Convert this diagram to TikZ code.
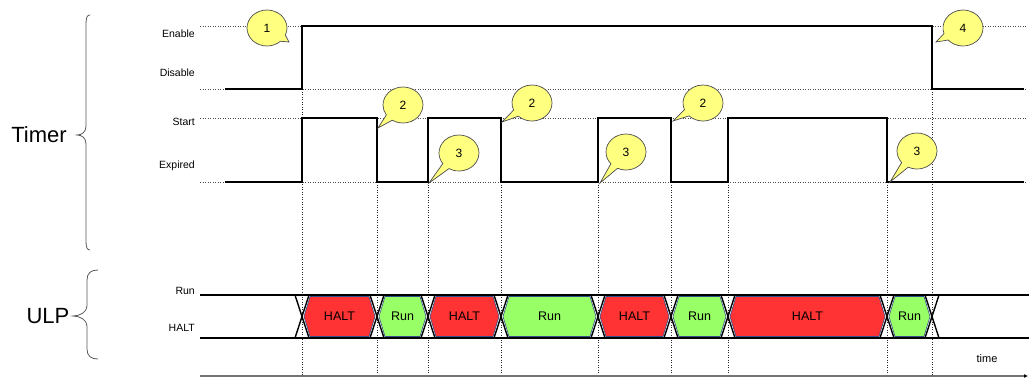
\documentclass[tikz,border=0pt]{standalone}
\usepackage{fontspec}
\setmainfont{Liberation Sans}
\usetikzlibrary{shapes.callouts,arrows.meta}
\definecolor{haltc}{RGB}{255,51,51}
\definecolor{runc}{RGB}{153,255,102}
\definecolor{balc}{RGB}{255,255,128}
\definecolor{hexedge}{RGB}{50,80,140}
\newcommand\hexa[5]{%
  \draw[#3] (#1+2,316.5) -- (#1+8,296.5) -- (#2-8,296.5) -- (#2-2,316.5) -- (#2-8,336.5) -- (#1+8,336.5) -- cycle;
  \node[hexlab] (#5) at ({(#1+#2)/2},316.5) {#4};}
\begin{document}
\begin{tikzpicture}[x=1pt,y=-1pt,
  sig/.style={line width=1.8pt, line join=miter},
  guide/.style={black!70, dash pattern=on 1pt off 1.5pt, line width=0.6pt},
  vguide/.style={black!85, dash pattern=on 1pt off 1.5pt, line width=0.6pt},
  lab/.style={font=\fontsize{10.5}{12}\selectfont, anchor=east, inner sep=0},
  bal/.style={ellipse callout, draw=black!70, fill=balc, line width=0.7pt, minimum width=40pt, minimum height=36pt, inner sep=0pt, callout pointer arc=24, font=\fontsize{12}{14}\selectfont},
  bus/.style={line width=1.6pt},
  hexhalt/.style={fill=haltc, draw=hexedge, line width=0.6pt},
  hexrun/.style={fill=runc, draw=hexedge, line width=0.6pt},
  hexlab/.style={font=\fontsize{12.5}{14}\selectfont, inner sep=0pt},
  brace/.style={draw=black!65, line width=0.8pt},
  ]
\useasboundingbox (0,0) rectangle (1029,378);
% guides
\foreach \y in {26,89,118,182} \draw[guide] (200,\y) -- (1027,\y);
\draw[vguide] (302,89) -- (302,376);
\draw[vguide] (932,89) -- (932,376);
\foreach \x in {377,428,501,598,671,728,887} \draw[vguide] (\x,182) -- (\x,376);
% signals
\draw[sig] (225,89) -- (302,89) -- (302,26) -- (932,26) -- (932,89) -- (1024,89);
\draw[sig] (225,182) -- (302,182) -- (302,118) -- (377,118) -- (377,182) -- (428,182) -- (428,118) -- (501,118) -- (501,182) -- (598,182) -- (598,118) -- (671,118) -- (671,182) -- (728,182) -- (728,118) -- (887,118) -- (887,182) -- (1024,182);
% labels
\node[lab] (lEn) at (195,34) {Enable};
\node[lab] (lDis) at (195,73) {Disable};
\node[lab] (lSt) at (195,122) {Start};
\node[lab] (lEx) at (195,166) {Expired};
\node[lab] (lRun) at (195,291) {Run};
\node[lab] (lHalt) at (195,328) {HALT};
\node[font=\fontsize{22}{26}\selectfont, inner sep=0pt] (tm) at (39,135) {Timer};
\node[font=\fontsize{22}{26}\selectfont, inner sep=0pt] (ulp) at (48,316) {ULP};
% braces
\draw[brace] (90,15) .. controls (87,15) and (86,18) .. (86,24) -- (86,126) .. controls (86,132) and (82,135) .. (77,135) .. controls (82,135) and (86,138) .. (86,144) -- (86,241) .. controls (86,247) and (87,250) .. (90,250);
\draw[brace] (98,270) .. controls (91,270) and (87,273) .. (87,280) -- (87,306) .. controls (87,312) and (80,316) .. (73,316) .. controls (80,316) and (87,320) .. (87,326) -- (87,349) .. controls (87,356) and (91,359) .. (98,359);
% ULP bus
\hexa{302}{377}{hexhalt}{HALT}{h1}
\hexa{377}{428}{hexrun}{Run}{r1}
\hexa{428}{501}{hexhalt}{HALT}{h2}
\hexa{501}{598}{hexrun}{Run}{r2}
\hexa{598}{671}{hexhalt}{HALT}{h3}
\hexa{671}{728}{hexrun}{Run}{r3}
\hexa{728}{887}{hexhalt}{HALT}{h4}
\hexa{887}{932}{hexrun}{Run}{r4}
\foreach \x in {302,377,428,501,598,671,728,887,932} {
  \draw[line width=1.4pt] (\x-7,295) -- (\x+7,338);
  \draw[line width=1.4pt] (\x+7,295) -- (\x-7,338);
}
\draw[bus] (200,295) -- (1029,295);
\draw[bus] (200,338) -- (1029,338);
% time axis
\draw[black!55, line width=1.2pt, -{Latex[black,length=4pt,width=4pt]}] (200,376) -- (1028,376);
\node[font=\fontsize{11}{13}\selectfont] (tl) at (987,359) {time};
% callouts
\coordinate (p1) at (289,42);
\coordinate (p2a) at (378,128);
\coordinate (p3a) at (429,183);
\coordinate (p2b) at (502,122);
\coordinate (p3b) at (600,183);
\coordinate (p2c) at (673,121);
\coordinate (p3c) at (890,182);
\coordinate (p4) at (936,42);
\node[bal, callout absolute pointer=(p1)] (c1) at (267,28) {1};
\node[bal, callout absolute pointer=(p2a)] (c2a) at (403,105) {2};
\node[bal, callout absolute pointer=(p3a)] (c3a) at (459,153) {3};
\node[bal, callout absolute pointer=(p2b)] (c2b) at (532,103) {2};
\node[bal, callout absolute pointer=(p3b)] (c3b) at (626,152) {3};
\node[bal, callout absolute pointer=(p2c)] (c2c) at (703,103) {2};
\node[bal, callout absolute pointer=(p3c)] (c3c) at (917,151) {3};
\node[bal, callout absolute pointer=(p4)] (c4) at (963,28) {4};
\end{tikzpicture}
\end{document}
